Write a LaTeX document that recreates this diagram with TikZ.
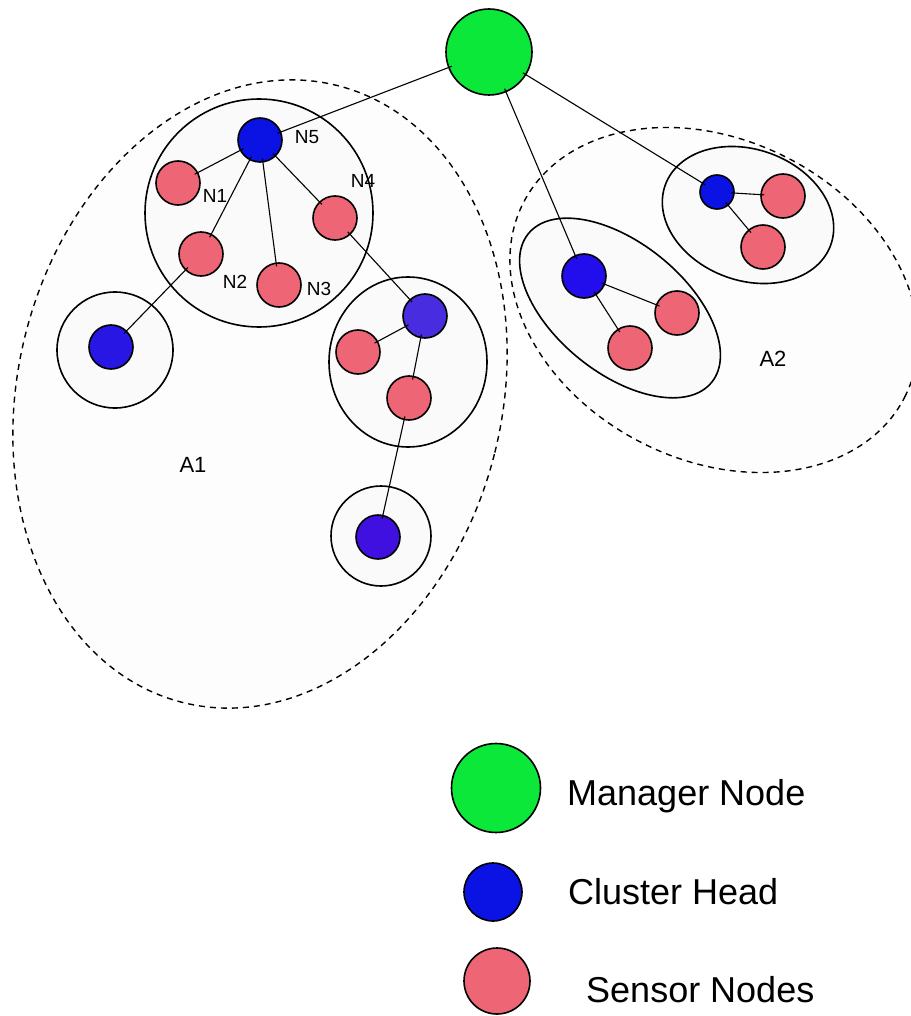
\documentclass[tikz,border=0pt]{standalone}
\usepackage{fontspec}
\setmainfont{Liberation Sans}
\definecolor{mgrgreen}{RGB}{12,232,58}
\definecolor{headblue}{RGB}{10,18,228}
\definecolor{headblueB}{RGB}{40,22,228}
\definecolor{headviolet}{RGB}{72,44,224}
\definecolor{headvioletB}{RGB}{64,16,224}
\definecolor{headblueC}{RGB}{34,14,236}
\definecolor{sensorpink}{RGB}{238,102,117}
\definecolor{areafill}{RGB}{253,253,253}
\definecolor{clusterfill}{RGB}{250,250,250}
\begin{document}
\begin{tikzpicture}[x=1pt,y=-1pt,
  area/.style={draw, dash pattern=on 6pt off 5pt, line width=1.4pt, fill=areafill},
  cluster/.style={draw, line width=1.6pt, fill=clusterfill},
  mgr/.style={circle, draw, line width=1.6pt, fill=mgrgreen, minimum size=86pt, inner sep=0pt},
  head/.style={circle, draw, line width=1.6pt, fill=headblue, minimum size=44pt, inner sep=0pt},
  sensor/.style={circle, draw, line width=1.6pt, fill=sensorpink, minimum size=44pt, inner sep=0pt},
  link/.style={line width=1.1pt, shorten <=-4pt, shorten >=-4pt},
  lbl/.style={font=\fontsize{19}{22}\selectfont, inner sep=0pt},
  arealbl/.style={font=\fontsize{22}{26}\selectfont, inner sep=0pt},
  legendtxt/.style={font=\fontsize{36}{42}\selectfont, inner sep=0pt, anchor=base west}]

\useasboundingbox (0,0) rectangle (910,1016);

% dashed areas
\draw[area, rotate around={-14:(260,394)}] (260,394) ellipse [x radius=242pt, y radius=318pt];
\draw[area, rotate around={-27:(714,300)}] (714,300) ellipse [x radius=214pt, y radius=160pt];

% cluster outlines in area A1
\draw[cluster] (259,213) circle [radius=114pt];
\draw[cluster] (115,350) circle [radius=58pt];
\draw[cluster] (408,362) ellipse [x radius=79pt, y radius=85pt];
\draw[cluster] (381,536) circle [radius=50pt];

% cluster outlines in area A2
\draw[cluster, rotate around={-39:(620,308)}] (620,308) ellipse [x radius=118pt, y radius=65pt];
\draw[cluster, rotate around={-20:(748,215)}] (748,215) ellipse [x radius=88pt, y radius=65.5pt];

% manager
\node[mgr] (mgr) at (489,52) {};

% area A1
\node[head] (n5) at (260,140) {};
\node[sensor] (n1) at (178,183) {};
\node[sensor] (n2) at (201,254) {};
\node[sensor] (n3) at (279,285) {};
\node[sensor] (n4) at (335,218) {};
\node[head, fill=headblueB] (lh) at (111,347) {};
\node[head, fill=headviolet] (rh) at (425,316) {};
\node[sensor] (rs1) at (358,352) {};
\node[sensor] (rs2) at (409,398) {};
\node[head, fill=headvioletB] (bh) at (378,537) {};

% area A2
\node[head, fill=headblueC] (ah) at (584,276) {};
\node[sensor] (as1) at (677,313) {};
\node[sensor] (as2) at (630,348) {};
\node[head, minimum size=34pt] (uh) at (717,192) {};
\node[sensor] (us1) at (783,196) {};
\node[sensor] (us2) at (763,247) {};

% links
\draw[link] (mgr) -- (n5);
\draw[link] (mgr) -- (ah);
\draw[link] (mgr) -- (uh);
\draw[link] (n5) -- (n1);
\draw[link] (n5) -- (n2);
\draw[link] (n5) -- (n3);
\draw[link] (n5) -- (n4);
\draw[link] (n2) -- (lh);
\draw[link] (n4) -- (rh);
\draw[link] (rh) -- (rs1);
\draw[link] (rh) -- (rs2);
\draw[link] (rs2) -- (bh);
\draw[link] (ah) -- (as1);
\draw[link] (ah) -- (as2);
\draw[link] (uh) -- (us1);
\draw[link] (uh) -- (us2);

% labels
\node[lbl] (l5) at (307,137) {N5};
\node[lbl] (l1) at (215,196) {N1};
\node[lbl] (l2) at (235,282) {N2};
\node[lbl] (l3) at (319,289) {N3};
\node[lbl] (l4) at (363,181) {N4};
\node[arealbl] (la1) at (193,465) {A1};
\node[arealbl] (la2) at (773,359) {A2};

% legend
\node[mgr, minimum size=89pt] (kmgr) at (496,788) {};
\node[head, minimum size=58pt] (khead) at (493,892) {};
\node[sensor, minimum size=66pt] (ksens) at (497,981) {};
\node[legendtxt] (tmgr) at (567,805) {Manager Node};
\node[legendtxt] (thead) at (568,904) {Cluster Head};
\node[legendtxt] (tsens) at (586,1002) {Sensor Nodes};
\end{tikzpicture}
\end{document}
